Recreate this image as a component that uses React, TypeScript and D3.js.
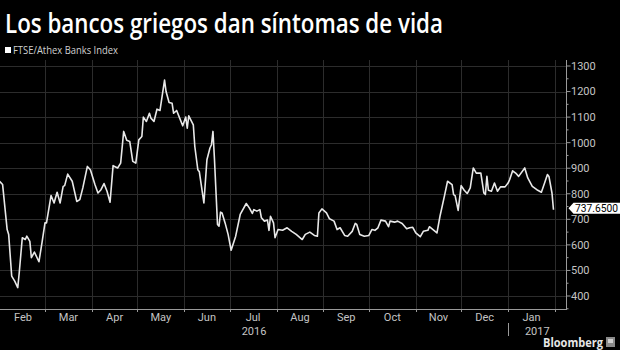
import React from "react";
import * as d3 from "d3";

const TITLE = "Los bancos griegos dan síntomas de vida";
const SERIES_NAME = "FTSE/Athex Banks Index";
const LAST_LABEL = "737.6500";

const DATES = [
  "2016-01-31","2016-02-02","2016-02-05","2016-02-06","2016-02-08","2016-02-10","2016-02-12","2016-02-13",
  "2016-02-15","2016-02-17","2016-02-18","2016-02-20","2016-02-21","2016-02-23","2016-02-26","2016-02-28",
  "2016-03-01","2016-03-02","2016-03-05","2016-03-07","2016-03-09","2016-03-11","2016-03-13","2016-03-14",
  "2016-03-16","2016-03-19","2016-03-22","2016-03-24","2016-03-26","2016-03-29","2016-03-31",
  "2016-04-03","2016-04-05","2016-04-07","2016-04-09","2016-04-11","2016-04-13","2016-04-15","2016-04-16",
  "2016-04-18","2016-04-20","2016-04-22","2016-04-24","2016-04-26","2016-04-28","2016-04-30",
  "2016-05-02","2016-05-04","2016-05-05","2016-05-07","2016-05-09","2016-05-10","2016-05-12","2016-05-14",
  "2016-05-16","2016-05-19","2016-05-20","2016-05-22","2016-05-24","2016-05-25","2016-05-27","2016-05-29","2016-05-31",
  "2016-06-02","2016-06-03","2016-06-04","2016-06-07","2016-06-08","2016-06-10","2016-06-11","2016-06-14",
  "2016-06-16","2016-06-18","2016-06-19","2016-06-20","2016-06-21","2016-06-23","2016-06-24","2016-06-25",
  "2016-06-26","2016-06-28","2016-06-30",
  "2016-07-02","2016-07-05","2016-07-08","2016-07-12","2016-07-14","2016-07-16","2016-07-17","2016-07-19",
  "2016-07-21","2016-07-22","2016-07-24","2016-07-26","2016-07-27","2016-07-28","2016-07-30","2016-07-31",
  "2016-08-02","2016-08-05","2016-08-08","2016-08-11","2016-08-14","2016-08-18","2016-08-20","2016-08-23",
  "2016-08-26","2016-08-28","2016-08-29","2016-08-31",
  "2016-09-03","2016-09-05","2016-09-08","2016-09-10","2016-09-12","2016-09-15","2016-09-17","2016-09-20",
  "2016-09-22","2016-09-23","2016-09-25","2016-09-28",
  "2016-10-01","2016-10-03","2016-10-05","2016-10-07","2016-10-09","2016-10-12","2016-10-14","2016-10-15",
  "2016-10-18","2016-10-20","2016-10-23","2016-10-26","2016-10-28","2016-10-30",
  "2016-11-01","2016-11-04","2016-11-06","2016-11-09","2016-11-10","2016-11-13","2016-11-15","2016-11-17",
  "2016-11-20","2016-11-22","2016-11-25","2016-11-26","2016-11-27","2016-11-29",
  "2016-12-01","2016-12-03","2016-12-05","2016-12-07","2016-12-09","2016-12-11","2016-12-14","2016-12-16",
  "2016-12-17","2016-12-18","2016-12-19","2016-12-21","2016-12-23","2016-12-25","2016-12-27","2016-12-30",
  "2017-01-01","2017-01-02","2017-01-04","2017-01-06","2017-01-08","2017-01-12","2017-01-14","2017-01-17",
  "2017-01-20","2017-01-23","2017-01-25","2017-01-27","2017-01-28","2017-01-30","2017-01-31"
];

const VALUES = [
  849,836,660,641,478,458,433,492,
  628,621,634,614,550,572,534,608,
  686,686,793,764,806,764,829,832,
  877,849,770,777,823,907,894,
  836,803,816,840,810,767,910,907,
  901,920,1044,1009,1005,927,920,
  1011,1024,1100,1083,1115,1096,1083,1131,
  1126,1245,1200,1157,1154,1115,1126,1096,1066,
  1100,1057,1105,1070,985,894,886,764,
  933,979,992,1044,933,680,673,728,
  725,686,641,
  579,634,719,762,745,723,738,732,
  738,706,693,697,657,712,686,628,
  660,657,667,653,641,621,641,650,
  637,634,725,741,
  725,702,693,660,667,637,634,653,
  684,680,641,634,
  637,660,657,667,697,693,671,693,
  689,693,684,663,667,669,
  647,632,653,657,671,657,647,712,
  793,849,836,797,793,735,
  832,814,801,823,901,881,881,803,
  797,868,814,810,842,810,827,827,
  842,855,890,881,868,901,862,829,
  816,806,840,875,868,803,737.65
];

const MONTH_LABELS = ["Feb","Mar","Apr","May","Jun","Jul","Aug","Sep","Oct","Nov","Dec","Jan"];
const MONTH_STARTS = [
  "2016-02-01","2016-03-01","2016-04-01","2016-05-01","2016-06-01","2016-07-01","2016-08-01",
  "2016-09-01","2016-10-01","2016-11-01","2016-12-01","2017-01-01","2017-02-01"
];
const YEAR_LABELS = ["2016", "2017"];
const YEAR_BREAK = "2017-01-01";
const Y_TICKS = [400,500,600,700,800,900,1000,1100,1200,1300];
const Y_MINOR = [350,450,550,650,750,850,950,1050,1150,1250];

const parse = d3.timeParse("%Y-%m-%d");

export default function App() {
  const W = 620, H = 350;
  const axisX = 566.5;
  const axisY = 309;
  const plotTop = 60;

  const x = d3.scaleTime()
    .domain([parse("2016-02-01")!, parse("2017-02-01")!])
    .range([1.1, 555]);
  const y = d3.scaleLinear().domain([400, 1300]).range([296, 66]);

  const data = DATES.map((d, i) => ({ date: parse(d)!, value: VALUES[i] }));
  const line = d3.line<{ date: Date; value: number }>()
    .x(d => x(d.date))
    .y(d => y(d.value))
    .curve(d3.curveLinear);

  const starts = MONTH_STARTS.map(s => parse(s)!);
  const gridMonths = starts.slice(1);
  const yBreak = x(parse(YEAR_BREAK)!);
  const last = data[data.length - 1];
  const ly = y(last.value) - 1.5;

  const axisFont = "Roboto, 'Open Sans', sans-serif";

  return (
    <svg width={W} height={H} style={{ position: "absolute", left: 0, top: 0, background: "#000", display: "block" }}>
      <rect x={0} y={0} width={W} height={H} fill="#000" />
      <text x={5} y={33} fill="#fff" fontFamily="'Open Sans', sans-serif" fontWeight={600} fontSize={27}
        textLength={438} lengthAdjust="spacingAndGlyphs">{TITLE}</text>
      <rect x={5} y={47} width={6} height={6} fill="#fff" />
      <text x={13} y={54} fill="#d0d0d0" fontFamily="'Open Sans', sans-serif" fontSize={10}
        textLength={105} lengthAdjust="spacingAndGlyphs">{SERIES_NAME}</text>

      {/* grid */}
      <g stroke="#2c2c2c" strokeWidth={1}>
        {Y_TICKS.map(t => (
          <line key={"h" + t} x1={0} x2={axisX} y1={Math.round(y(t)) + 0.5} y2={Math.round(y(t)) + 0.5} />
        ))}
        {gridMonths.map((d, i) => (
          <line key={"v" + i} x1={Math.round(x(d)) + 0.5} x2={Math.round(x(d)) + 0.5} y1={plotTop} y2={axisY} />
        ))}
      </g>

      {/* series */}
      <path d={line(data) || ""} fill="none" stroke="#e8e8e8" strokeWidth={1.6} strokeLinejoin="round" />

      {/* axes */}
      <g stroke="#9a9a9a" strokeWidth={1}>
        <line x1={0} x2={axisX} y1={axisY + 0.5} y2={axisY + 0.5} />
        <line x1={axisX} x2={axisX} y1={plotTop} y2={axisY + 1} />
        {gridMonths.map((d, i) => (
          <line key={"t" + i} x1={Math.round(x(d)) + 0.5} x2={Math.round(x(d)) + 0.5} y1={axisY} y2={axisY + 3} />
        ))}
        {Y_TICKS.map(t => (
          <line key={"yt" + t} x1={axisX} x2={axisX + 4} y1={y(t)} y2={y(t)} />
        ))}
        {Y_MINOR.map(t => (
          <line key={"ym" + t} x1={axisX} x2={axisX + 2} y1={y(t)} y2={y(t)} />
        ))}
        <line x1={Math.round(yBreak) + 0.5} x2={Math.round(yBreak) + 0.5} y1={323} y2={336} />
      </g>

      <g fill="#c4c4c4" fontFamily={axisFont} fontSize={11}>
        {Y_TICKS.map(t => (
          <text key={"yl" + t} x={571} y={y(t)} dy="0.35em">{t}</text>
        ))}
        {MONTH_LABELS.map((m, i) => (
          <text key={"m" + i} x={(x(starts[i]) + x(starts[i + 1])) / 2} y={321} textAnchor="middle">{m}</text>
        ))}
        <text x={(0 + yBreak) / 2} y={335} textAnchor="middle">{YEAR_LABELS[0]}</text>
        <text x={(yBreak + axisX) / 2} y={335} textAnchor="middle">{YEAR_LABELS[1]}</text>
      </g>

      {/* last value tag */}
      <path d={`M${axisX + 2},${ly} L${axisX + 7},${ly - 5.5} L${W},${ly - 5.5} L${W},${ly + 5.5} L${axisX + 7},${ly + 5.5} Z`} fill="#fff" />
      <text x={575} y={ly} dy="0.36em" fill="#000" fontFamily={axisFont} fontSize={11}
        textLength={43} lengthAdjust="spacingAndGlyphs">{LAST_LABEL}</text>

      {/* branding */}
      <text x={543} y={347} fill="#e6e6e6" fontFamily="'Open Sans', sans-serif" fontWeight={700} fontSize={12}
        textLength={60} lengthAdjust="spacingAndGlyphs">Bloomberg</text>
      <rect x={606} y={337} width={9} height={10} fill="#8a8a8a" />
      <rect x={608} y={339} width={5} height={4} fill="#cfcfcf" />
    </svg>
  );
}
